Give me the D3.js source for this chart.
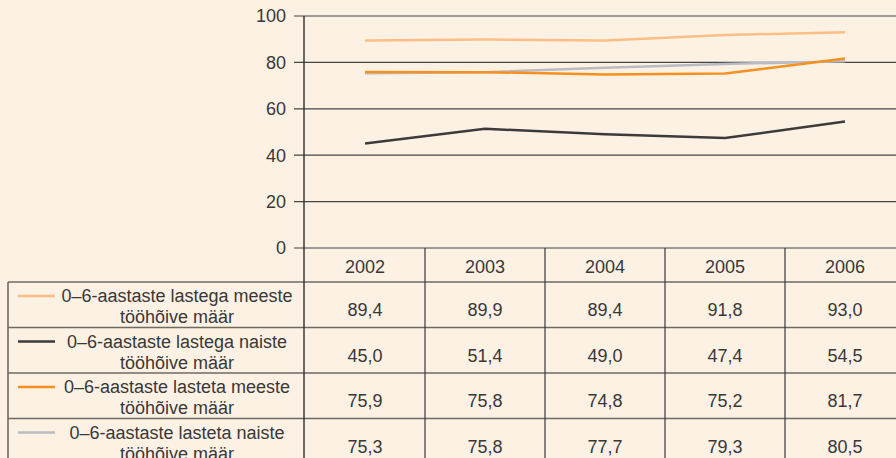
<!DOCTYPE html>
<html>
<head>
<meta charset="utf-8">
<script src="https://cdn.jsdelivr.net/npm/d3@7"></script>
<style>
  body { margin: 0; background: #fdf1e4; }
  svg { display: block; font-family: "Liberation Sans", Arial, sans-serif; }
</style>
</head>
<body>
<div id="chart"></div>
<script>
// data
const years = ["2002", "2003", "2004", "2005", "2006"];
const seriesNames = [
    ["0–6-aastaste lastega meeste", "tööhõive määr"],
    ["0–6-aastaste lastega naiste", "tööhõive määr"],
    ["0–6-aastaste lasteta meeste", "tööhõive määr"],
    ["0–6-aastaste lasteta naiste", "tööhõive määr"]
];
const menWithKids = [89.4, 89.9, 89.4, 91.8, 93.0];
const womenWithKids = [45.0, 51.4, 49.0, 47.4, 54.5];
const menNoKids = [75.9, 75.8, 74.8, 75.2, 81.7];
const womenNoKids = [75.3, 75.8, 77.7, 79.3, 80.5];
const yTicks = [0, 20, 40, 60, 80, 100];

const series = [menWithKids, womenWithKids, menNoKids, womenNoKids];
const colors = ["#fdbe84", "#3b3b3b", "#f7901e", "#b9bcc2"];
const drawOrder = [3, 1, 2, 0];

const W = 896, H = 458;
const svg = d3.select("#chart").append("svg")
    .attr("width", W)
    .attr("height", H);

// scales
const x = d3.scaleBand().domain(years).range([305, 905]);
const y = d3.scaleLinear().domain([0, 100]).range([248, 16]);

const textColor = "#383838";
const fs = 18;

// gridlines + y axis ticks
svg.append("g")
    .selectAll("line")
    .data(yTicks)
    .join("line")
    .attr("x1", 294).attr("x2", W)
    .attr("y1", d => y(d)).attr("y2", d => y(d))
    .attr("stroke", "#444")
    .attr("stroke-width", 1.2);

svg.append("g")
    .selectAll("text")
    .data(yTicks)
    .join("text")
    .attr("x", 286)
    .attr("y", d => y(d))
    .attr("dy", "0.36em")
    .attr("text-anchor", "end")
    .attr("font-size", fs)
    .attr("fill", textColor)
    .text(d => d);

// table
const rowTop = 282, rowH = 45.5;
const tableLeft = 8;

// row lines
svg.append("g")
    .selectAll("line")
    .data(d3.range(series.length + 1))
    .join("line")
    .attr("x1", tableLeft).attr("x2", W)
    .attr("y1", i => rowTop + i * rowH).attr("y2", i => rowTop + i * rowH)
    .attr("stroke", "#6e6a66")
    .attr("stroke-width", 1.6);

// left border
svg.append("line")
    .attr("x1", tableLeft).attr("x2", tableLeft)
    .attr("y1", rowTop).attr("y2", H)
    .attr("stroke", "#6e6a66")
    .attr("stroke-width", 1.6);

// column lines
svg.append("g")
    .selectAll("line")
    .data(years.slice(1))
    .join("line")
    .attr("x1", d => x(d)).attr("x2", d => x(d))
    .attr("y1", y(0)).attr("y2", H)
    .attr("stroke", "#3a3a3a")
    .attr("stroke-width", 1.2);

// y axis line
svg.append("line")
    .attr("x1", 304).attr("x2", 304)
    .attr("y1", y(100)).attr("y2", H)
    .attr("stroke", "#2e2e2e")
    .attr("stroke-width", 1.4);

// header years
svg.append("g")
    .selectAll("text")
    .data(years)
    .join("text")
    .attr("x", d => x(d) + x.bandwidth() / 2)
    .attr("y", (y(0) + rowTop) / 2 + 2)
    .attr("dy", "0.36em")
    .attr("text-anchor", "middle")
    .attr("font-size", fs)
    .attr("fill", textColor)
    .text(d => d);

// rows: legend + values
const fmt = v => v.toFixed(1).replace(".", ",");
series.forEach((vals, i) => {
    const top = rowTop + i * rowH;
    svg.append("line")
        .attr("x1", 18).attr("x2", 55)
        .attr("y1", top + 14).attr("y2", top + 14)
        .attr("stroke", colors[i])
        .attr("stroke-width", 2.5);

    seriesNames[i].forEach((t, j) => {
        svg.append("text")
            .attr("x", 177)
            .attr("y", top + 14 + j * 21)
            .attr("dy", "0.36em")
            .attr("text-anchor", "middle")
            .attr("font-size", fs)
            .attr("fill", textColor)
            .text(t);
    });

    svg.append("g")
        .selectAll("text")
        .data(vals)
        .join("text")
        .attr("x", (d, k) => x(years[k]) + x.bandwidth() / 2)
        .attr("y", top + rowH / 2 + 5)
        .attr("dy", "0.36em")
        .attr("text-anchor", "middle")
        .attr("font-size", fs)
        .attr("fill", textColor)
        .text(d => fmt(d));
});

// lines
const line = d3.line()
    .x((d, k) => x(years[k]) + x.bandwidth() / 2)
    .y(d => y(d));

drawOrder.forEach(i => {
    svg.append("path")
        .datum(series[i])
        .attr("d", line)
        .attr("fill", "none")
        .attr("stroke", colors[i])
        .attr("stroke-width", 2.5);
});
</script>
</body>
</html>
